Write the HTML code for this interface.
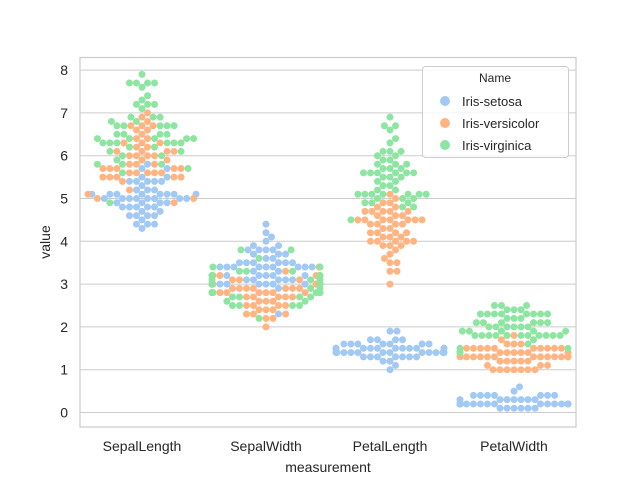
<!DOCTYPE html>
<html><head><meta charset="utf-8"><style>
body{margin:0;background:#fff;}
svg text{font-family:"Liberation Sans",Arial,sans-serif;fill:#262626;}
</style></head><body>
<svg id="chart" width="640" height="480" viewBox="0 0 640 480">
<rect x="0" y="0" width="640" height="480" fill="#fff"/>
<g id="grid"></g>
<g id="dots"></g>
<rect x="80" y="57.5" width="496" height="369.5" fill="none" stroke="#cccccc" stroke-width="1.25"/>
<g id="yticks"></g>
<g id="xticks"></g>
<text x="328" y="472" text-anchor="middle" font-size="14">measurement</text>
<text x="50" y="242" text-anchor="middle" font-size="14" transform="rotate(-90 50 242)">value</text>
<g>
<rect x="422.5" y="66.5" width="146" height="91" rx="3" fill="#fff" fill-opacity="0.8" stroke="#cccccc"/>
<text x="495" y="82" text-anchor="middle" font-size="12">Name</text>
<g id="legend-items"></g>
</g>
</svg>
<script>
const categories = ["SepalLength","SepalWidth","PetalLength","PetalWidth"];
const species = ["Iris-setosa","Iris-versicolor","Iris-virginica"];
const colors = ["#a1c9f4","#ffb482","#8de5a1"];
const yTicks = [0,1,2,3,4,5,6,7,8];
const setosa = [[5.1,3.5,1.4,0.2],[4.9,3.0,1.4,0.2],[4.7,3.2,1.3,0.2],[4.6,3.1,1.5,0.2],[5.0,3.6,1.4,0.2],[5.4,3.9,1.7,0.4],[4.6,3.4,1.4,0.3],[5.0,3.4,1.5,0.2],[4.4,2.9,1.4,0.2],[4.9,3.1,1.5,0.1],[5.4,3.7,1.5,0.2],[4.8,3.4,1.6,0.2],[4.8,3.0,1.4,0.1],[4.3,3.0,1.1,0.1],[5.8,4.0,1.2,0.2],[5.7,4.4,1.5,0.4],[5.4,3.9,1.3,0.4],[5.1,3.5,1.4,0.3],[5.7,3.8,1.7,0.3],[5.1,3.8,1.5,0.3],[5.4,3.4,1.7,0.2],[5.1,3.7,1.5,0.4],[4.6,3.6,1.0,0.2],[5.1,3.3,1.7,0.5],[4.8,3.4,1.9,0.2],[5.0,3.0,1.6,0.2],[5.0,3.4,1.6,0.4],[5.2,3.5,1.5,0.2],[5.2,3.4,1.4,0.2],[4.7,3.2,1.6,0.2],[4.8,3.1,1.6,0.2],[5.4,3.4,1.5,0.4],[5.2,4.1,1.5,0.1],[5.5,4.2,1.4,0.2],[4.9,3.1,1.5,0.1],[5.0,3.2,1.2,0.2],[5.5,3.5,1.3,0.2],[4.9,3.1,1.5,0.1],[4.4,3.0,1.3,0.2],[5.1,3.4,1.5,0.2],[5.0,3.5,1.3,0.3],[4.5,2.3,1.3,0.3],[4.4,3.2,1.3,0.2],[5.0,3.5,1.6,0.6],[5.1,3.8,1.9,0.4],[4.8,3.0,1.4,0.3],[5.1,3.8,1.6,0.2],[4.6,3.2,1.4,0.2],[5.3,3.7,1.5,0.2],[5.0,3.3,1.4,0.2]];
const versicolor = [[7.0,3.2,4.7,1.4],[6.4,3.2,4.5,1.5],[6.9,3.1,4.9,1.5],[5.5,2.3,4.0,1.3],[6.5,2.8,4.6,1.5],[5.7,2.8,4.5,1.3],[6.3,3.3,4.7,1.6],[4.9,2.4,3.3,1.0],[6.6,2.9,4.6,1.3],[5.2,2.7,3.9,1.4],[5.0,2.0,3.5,1.0],[5.9,3.0,4.2,1.5],[6.0,2.2,4.0,1.0],[6.1,2.9,4.7,1.4],[5.6,2.9,3.6,1.3],[6.7,3.1,4.4,1.4],[5.6,3.0,4.5,1.5],[5.8,2.7,4.1,1.0],[6.2,2.2,4.5,1.5],[5.6,2.5,3.9,1.1],[5.9,3.2,4.8,1.8],[6.1,2.8,4.0,1.3],[6.3,2.5,4.9,1.5],[6.1,2.8,4.7,1.2],[6.4,2.9,4.3,1.3],[6.6,3.0,4.4,1.4],[6.8,2.8,4.8,1.4],[6.7,3.0,5.0,1.7],[6.0,2.9,4.5,1.5],[5.7,2.6,3.5,1.0],[5.5,2.4,3.8,1.1],[5.5,2.4,3.7,1.0],[5.8,2.7,3.9,1.2],[6.0,2.7,5.1,1.6],[5.4,3.0,4.5,1.5],[6.0,3.4,4.5,1.6],[6.7,3.1,4.7,1.5],[6.3,2.3,4.4,1.3],[5.6,3.0,4.1,1.3],[5.5,2.5,4.0,1.3],[5.5,2.6,4.4,1.2],[6.1,3.0,4.6,1.4],[5.8,2.6,4.0,1.2],[5.0,2.3,3.3,1.0],[5.6,2.7,4.2,1.3],[5.7,3.0,4.2,1.2],[5.7,2.9,4.2,1.3],[6.2,2.9,4.3,1.3],[5.1,2.5,3.0,1.1],[5.7,2.8,4.1,1.3]];
const virginica = [[6.3,3.3,6.0,2.5],[5.8,2.7,5.1,1.9],[7.1,3.0,5.9,2.1],[6.3,2.9,5.6,1.8],[6.5,3.0,5.8,2.2],[7.6,3.0,6.6,2.1],[4.9,2.5,4.5,1.7],[7.3,2.9,6.3,1.8],[6.7,2.5,5.8,1.8],[7.2,3.6,6.1,2.5],[6.5,3.2,5.1,2.0],[6.4,2.7,5.3,1.9],[6.8,3.0,5.5,2.1],[5.7,2.5,5.0,2.0],[5.8,2.8,5.1,2.4],[6.4,3.2,5.3,2.3],[6.5,3.0,5.5,1.8],[7.7,3.8,6.7,2.2],[7.7,2.6,6.9,2.3],[6.0,2.2,5.0,1.5],[6.9,3.2,5.7,2.3],[5.6,2.8,4.9,2.0],[7.7,2.8,6.7,2.0],[6.3,2.7,4.9,1.8],[6.7,3.3,5.7,2.1],[7.2,3.2,6.0,1.8],[6.2,2.8,4.8,1.8],[6.1,3.0,4.9,1.8],[6.4,2.8,5.6,2.1],[7.2,3.0,5.8,1.6],[7.4,2.8,6.1,1.9],[7.9,3.8,6.4,2.0],[6.4,2.8,5.6,2.2],[6.3,2.8,5.1,1.5],[6.1,2.6,5.6,1.4],[7.7,3.0,6.1,2.3],[6.3,3.4,5.6,2.4],[6.4,3.1,5.5,1.8],[6.0,3.0,4.8,1.8],[6.9,3.1,5.4,2.1],[6.7,3.1,5.6,2.4],[6.9,3.1,5.1,2.3],[5.8,2.7,5.1,1.9],[6.8,3.2,5.9,2.3],[6.7,3.3,5.7,2.5],[6.7,3.0,5.2,2.3],[6.3,2.5,5.0,1.9],[6.5,3.0,5.2,2.0],[6.2,3.4,5.4,2.3],[5.9,3.0,5.1,1.8]];

const NS='http://www.w3.org/2000/svg';
const X0=80,X1=576,Y0=412.5,PPU=42.8;
const yS=v=>Y0-v*PPU;
const band=(X1-X0)/categories.length;
const xC=i=>X0+band*(i+0.5);
function mk(tag,attrs,parent){const e=document.createElementNS(NS,tag);for(const k in attrs)e.setAttribute(k,attrs[k]);parent.appendChild(e);return e;}

const grid=document.getElementById('grid'),yt=document.getElementById('yticks'),xt=document.getElementById('xticks');
yTicks.forEach(t=>{
  const l=mk('line',{x1:X0,x2:X1,y1:yS(t),y2:yS(t),stroke:'#cccccc','stroke-width':1},grid);
  
  
  const tx=mk('text',{x:X0-12,y:yS(t)+5,'text-anchor':'end','font-size':14},yt);
  tx.textContent=t;
  
  
});
categories.forEach((c,i)=>{
  const tx=mk('text',{x:xC(i),y:451,'text-anchor':'middle','font-size':14},xt);
  tx.textContent=c;
  
  
});

const D=7.0,R=3.5,HALF=54;
const groups=[setosa,versicolor,virginica];
const dots=document.getElementById('dots');
categories.forEach((c,ci)=>{
  const pts=[];
  groups.forEach((g,si)=>g.forEach(row=>pts.push({v:row[ci],s:si})));
  const order=pts.map((p,i)=>i).sort((a,b)=>pts[a].v-pts[b].v||a-b);
  const placed=[];
  order.forEach(i=>{
    const p=pts[i];const y=yS(p.v);
    const nb=placed.filter(q=>Math.abs(q.y-y)<D);
    const cands=[0];
    nb.forEach(q=>{const dx=Math.sqrt(D*D-(q.y-y)*(q.y-y));cands.push(q.x+dx,q.x-dx);});
    cands.sort((a,b)=>Math.abs(a)-Math.abs(b));
    let x=0;
    for(const cx of cands){if(nb.every(q=>(q.x-cx)**2+(q.y-y)**2>=D*D-0.01)){x=cx;break;}}
    p.x=x;p.y=y;placed.push(p);
  });
  pts.forEach(p=>{
    const x=Math.max(-HALF,Math.min(HALF,p.x));
    const e=mk('circle',{cx:xC(ci)+x,cy:p.y,r:R,fill:colors[p.s]},dots);
    
    
  });
});

const li=document.getElementById('legend-items');
species.forEach((s,i)=>{
  const y=101+i*22;
  const c=mk('circle',{cx:445,cy:y,r:5,fill:colors[i]},li);
  
  
  const t=mk('text',{x:462,y:y+5,'font-size':13},li);
  t.textContent=s;
  
  
});
</script>
</body></html>
